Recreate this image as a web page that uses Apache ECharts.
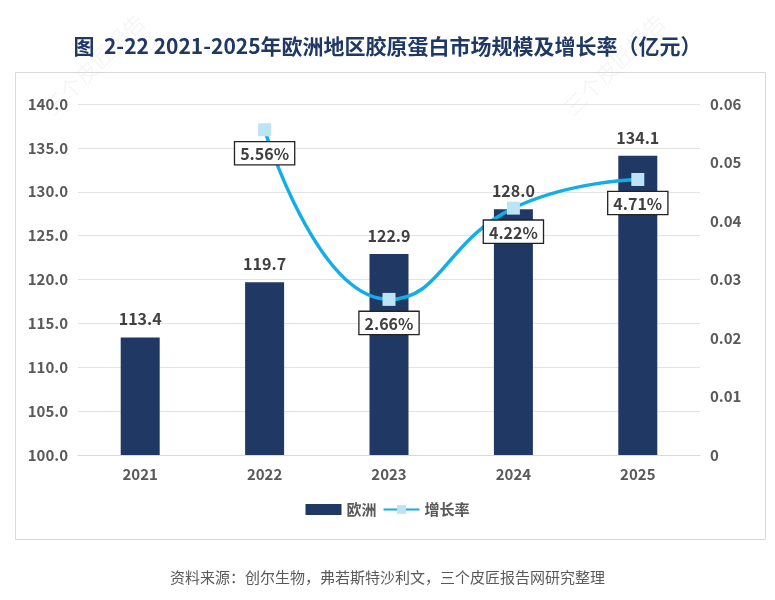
<!DOCTYPE html>
<html>
<head>
<meta charset="utf-8">
<script src="https://cdn.jsdelivr.net/npm/echarts@6/dist/echarts.min.js"></script>
<style>
  html, body { margin: 0; padding: 0; background: #fff; }
  #chart { width: 775px; height: 600px; }
</style>
</head>
<body>
<div id="chart"></div>
<script>
  var years = ['2021', '2022', '2023', '2024', '2025'];
  var marketSize = [113.4, 119.7, 122.9, 128.0, 134.1];
  var growthRate = [null, 0.0556, 0.0266, 0.0422, 0.0471];

  var font = '"Noto Sans CJK SC", "Noto Sans", sans-serif';
  var gray = '#595959';

  var chart = echarts.init(document.getElementById('chart'));
  var option = {
    backgroundColor: '#fff',
    textStyle: { fontFamily: font },
    title: {
      text: '图  2-22 2021-2025年欧洲地区胶原蛋白市场规模及增长率（亿元）',
      left: 'center',
      top: 31,
      textStyle: { fontFamily: font, fontSize: 21, fontWeight: 'bold', color: '#1f3864' }
    },
    graphic: [
      {
        type: 'rect', left: 13, top: 70, z: -1,
        shape: { width: 750, height: 467 },
        style: { fill: 'none', stroke: '#d9d9d9', lineWidth: 1 }
      },
      {
        type: 'text', left: 'center', top: 570,
        style: {
          text: '资料来源：创尔生物，弗若斯特沙利文，三个皮匠报告网研究整理',
          fill: gray, font: '15px ' + font
        }
      },
      {
        type: 'text', left: 40, top: 10, rotation: Math.PI / 4, z: -2,
        style: { text: '三个皮匠报告', fill: 'rgba(0,0,0,0.04)', font: '22px ' + font }
      },
      {
        type: 'text', left: 560, top: 10, rotation: Math.PI / 4, z: -2,
        style: { text: '三个皮匠报告', fill: 'rgba(0,0,0,0.04)', font: '22px ' + font }
      }
    ],
    legend: {
      bottom: 78,
      left: 'center',
      itemGap: 6,
      itemWidth: 36,
      itemHeight: 11,
      textStyle: { fontFamily: font, fontSize: 15, fontWeight: 'bold', color: gray },
      data: [
        { name: '欧洲', icon: 'rect' },
        { name: '增长率' }
      ]
    },
    grid: { left: 78, right: 75, top: 104, bottom: 145 },
    xAxis: {
      type: 'category',
      data: years,
      axisLine: { lineStyle: { color: '#d9d9d9' } },
      axisTick: { show: false },
      axisLabel: { color: gray, fontSize: 15, fontWeight: 'bold', margin: 12 }
    },
    yAxis: [
      {
        type: 'value',
        min: 100, max: 140, interval: 5,
        axisLine: { show: false },
        axisTick: { show: false },
        splitLine: { lineStyle: { color: '#e3e3e3' } },
        axisLabel: {
          color: gray, fontSize: 15, fontWeight: 'bold', margin: 10,
          formatter: function (v) { return v.toFixed(1); }
        }
      },
      {
        type: 'value',
        min: 0, max: 0.06, interval: 0.01,
        axisLine: { show: false },
        axisTick: { show: false },
        splitLine: { show: false },
        axisLabel: {
          color: gray, fontSize: 15, fontWeight: 'bold', margin: 10,
          formatter: function (v) { return v === 0 ? '0' : v.toFixed(2); }
        }
      }
    ],
    series: [
      {
        name: '欧洲',
        type: 'bar',
        data: marketSize,
        barWidth: 39,
        itemStyle: { color: '#1f3864' },
        label: {
          show: true, position: 'top', distance: 10,
          color: '#404040', fontSize: 16, fontWeight: 'bold',
          formatter: function (p) { return p.value.toFixed(1); }
        }
      },
      {
        name: '增长率',
        type: 'line',
        yAxisIndex: 1,
        data: growthRate,
        smooth: true,
        symbol: 'rect',
        symbolSize: 13,
        itemStyle: { color: '#bde3f7' },
        lineStyle: { color: '#14aee6', width: 3.5 },
        label: {
          show: true, position: 'bottom', distance: 6,
          color: '#404040', fontSize: 16, fontWeight: 'bold',
          backgroundColor: '#fff', borderColor: '#222', borderWidth: 1.3,
          padding: [4, 5, 2, 5],
          formatter: function (p) { return (p.value * 100).toFixed(2) + '%'; }
        }
      }
    ]
  };
  chart.setOption(option);
</script>
</body>
</html>
